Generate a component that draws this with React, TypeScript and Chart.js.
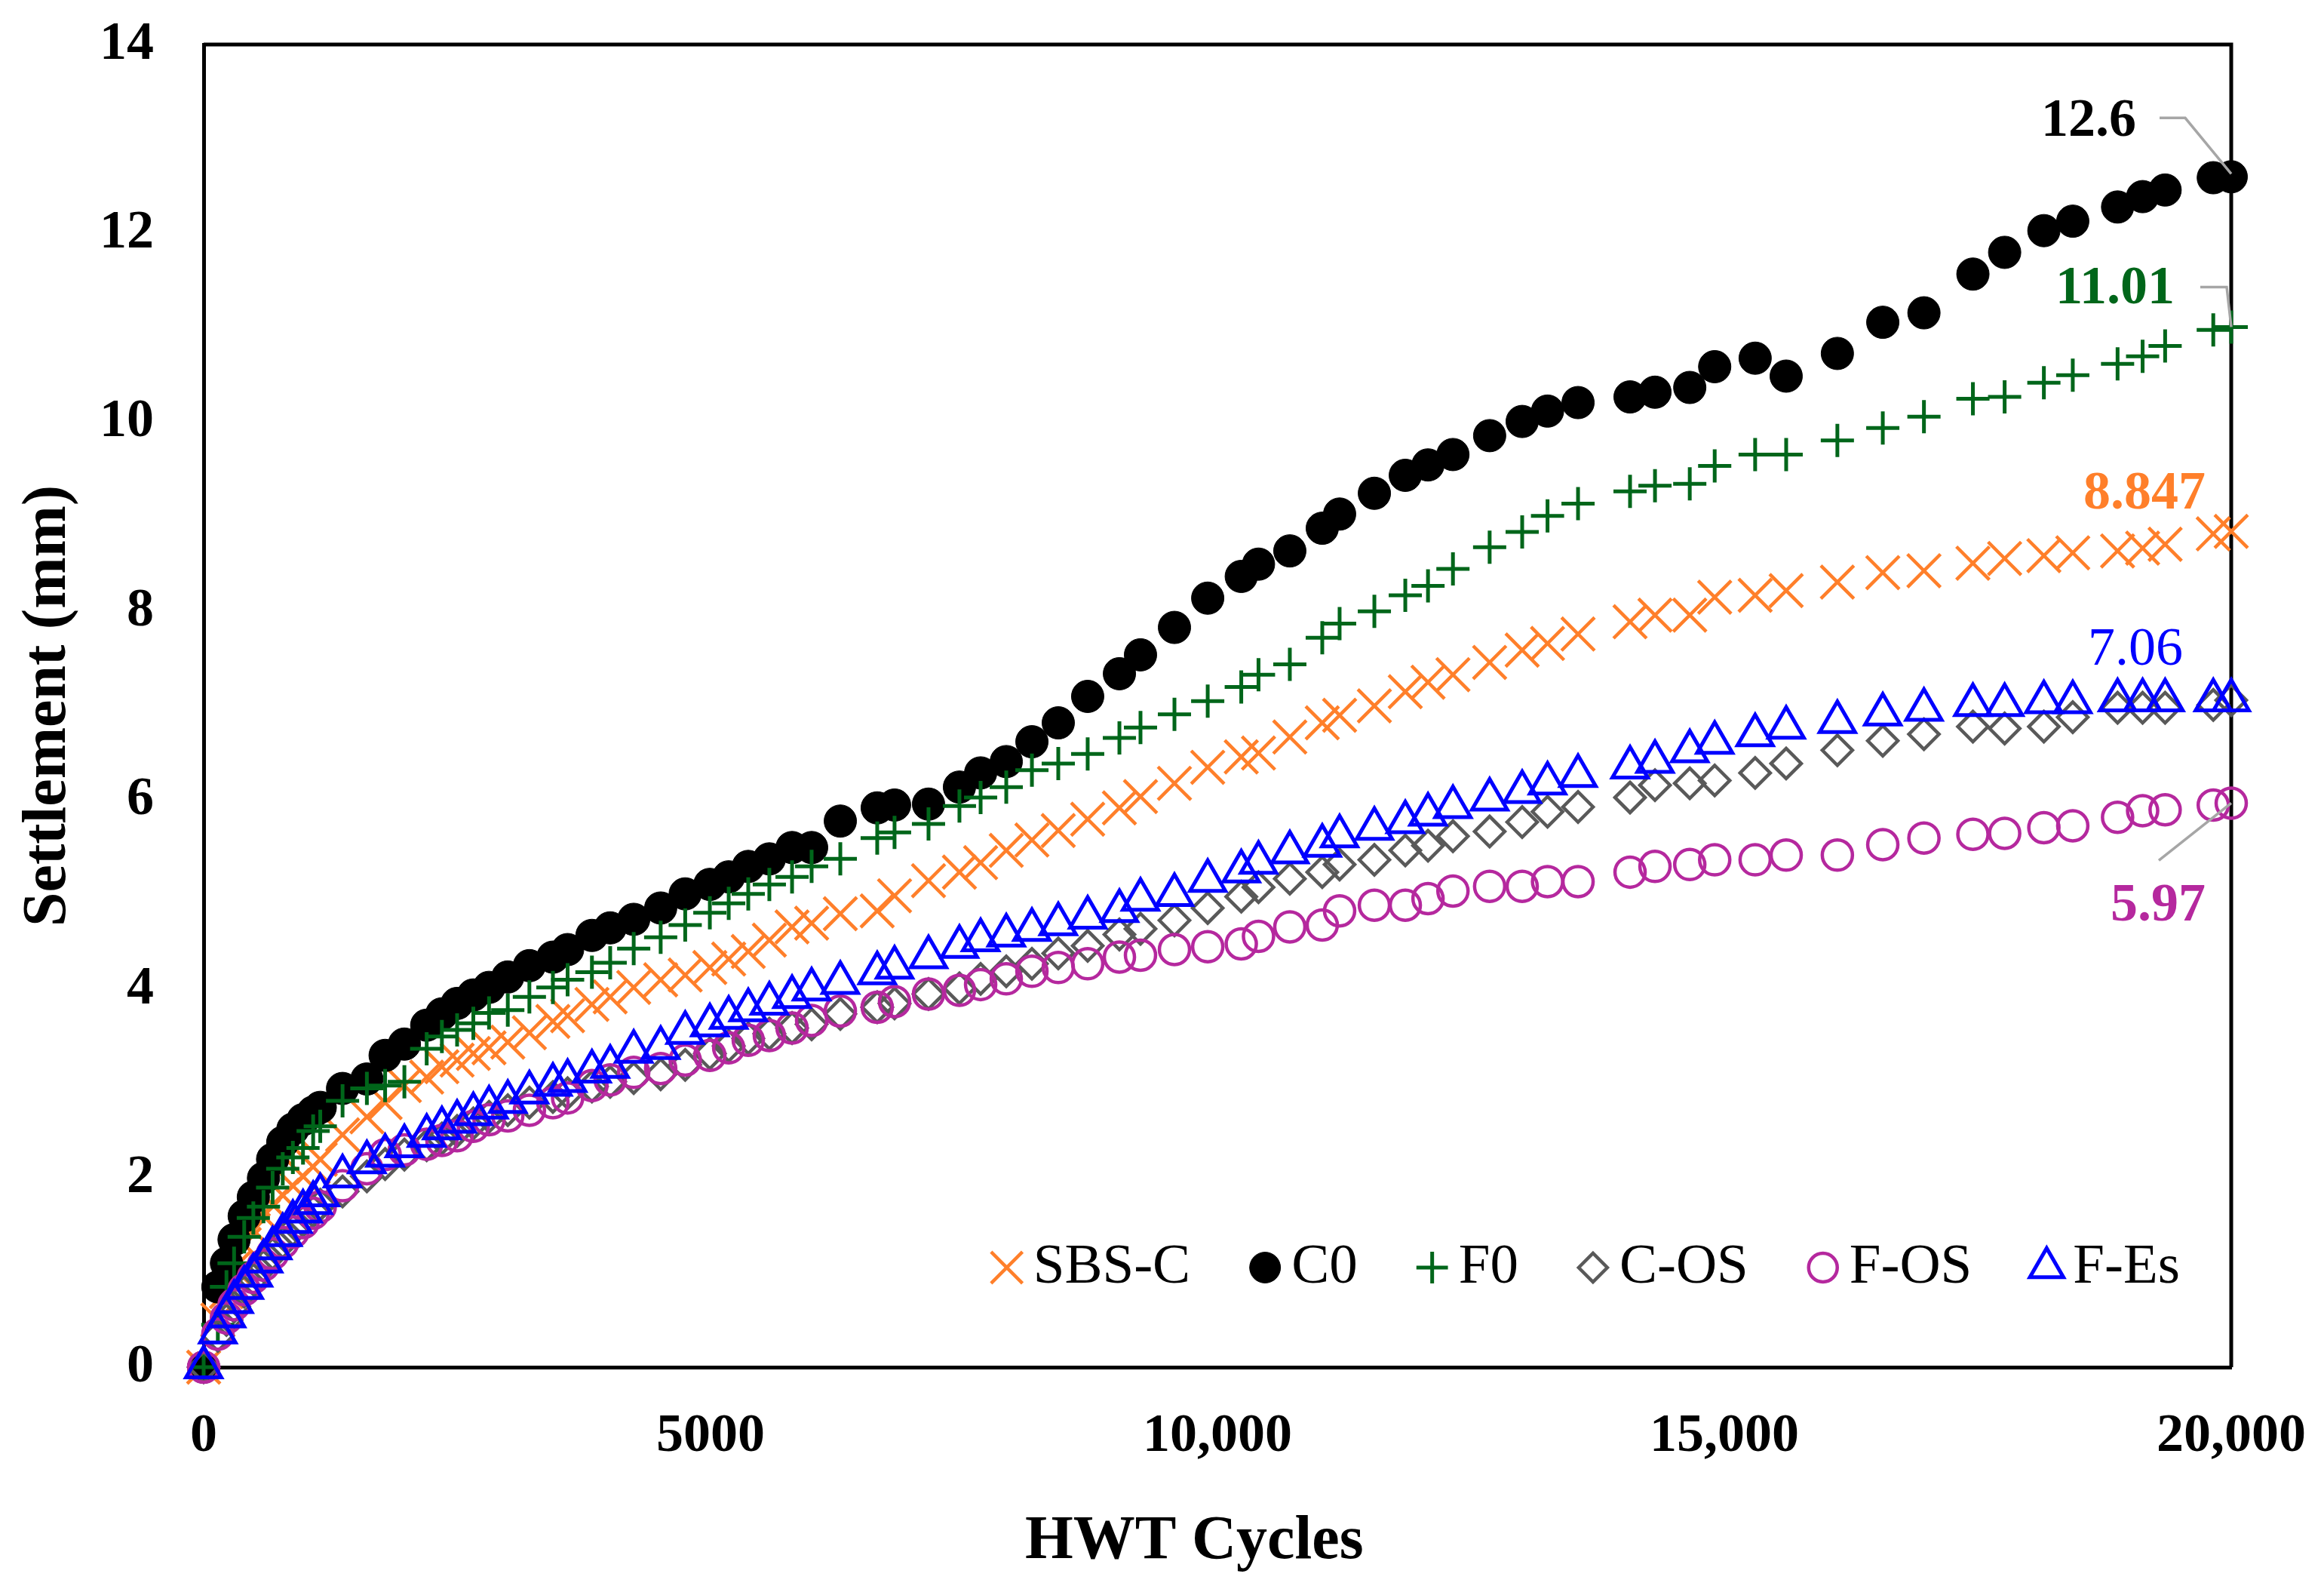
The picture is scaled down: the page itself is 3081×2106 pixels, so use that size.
import React, { useEffect, useRef } from 'react';
import { Chart, registerables } from 'chart.js';
import { drawPoint } from 'chart.js/helpers';

Chart.register(...registerables);

const W = 3081;
const H = 2106;
const FONT = '"Liberation Serif", "Times New Roman", Times, serif';

// HWT cycles at which settlement was recorded
const cycles = [
  0, 140, 225, 300, 400, 490, 590, 680, 780, 880,
  980, 1080, 1150, 1370, 1610, 1790, 1980, 2200, 2350, 2500,
  2660, 2815, 3000, 3213, 3445, 3590, 3830, 4010, 4242, 4508,
  4750, 4993, 5179, 5372, 5580, 5804, 5997, 6280, 6644, 6815,
  7150, 7455, 7664, 7917, 8170, 8430, 8720, 9033, 9241, 9576,
  9904, 10235, 10405, 10714, 11034, 11205, 11548, 11853, 12077, 12323,
  12685, 13006, 13256, 13557, 14070, 14316, 14659, 14905, 15304, 15610,
  16115, 16563, 16969, 17452, 17765, 18152, 18437, 18879, 19126, 19348,
  19823, 20000,
];

const sbsC = [
  0, 0.5, 0.8, 1.05, 1.3, 1.45, 1.6, 1.72, 1.82, 1.92,
  2.02, 2.12, 2.2, 2.46, 2.65, 2.8, 2.98, 3.07, 3.18, 3.25,
  3.32, 3.38, 3.44, 3.54, 3.66, 3.72, 3.84, 3.92, 4.02, 4.1,
  4.15, 4.23, 4.32, 4.4, 4.52, 4.66, 4.7, 4.8, 4.83, 4.99,
  5.15, 5.24, 5.34, 5.47, 5.58, 5.68, 5.8, 5.92, 6.04, 6.18,
  6.35, 6.46, 6.5, 6.67, 6.82, 6.9, 7.0, 7.15, 7.25, 7.33,
  7.46, 7.59, 7.66, 7.76, 7.89, 7.96, 7.96, 8.15, 8.17, 8.22,
  8.31, 8.41, 8.43, 8.51, 8.56, 8.59, 8.62, 8.64, 8.67, 8.71,
  8.82, 8.847,
];

const c0 = [
  0, 0.85, 1.1, 1.35, 1.6, 1.8, 2.0, 2.2, 2.38, 2.52,
  2.62, 2.7, 2.75, 2.95, 3.05, 3.3, 3.42, 3.62, 3.74, 3.85,
  3.94, 4.02, 4.13, 4.25, 4.34, 4.42, 4.57, 4.65, 4.74, 4.86,
  5.01, 5.11, 5.19, 5.3, 5.38, 5.5, 5.5, 5.78, 5.92, 5.95,
  5.96, 6.14, 6.29, 6.41, 6.62, 6.82, 7.1, 7.34, 7.54, 7.83,
  8.14, 8.37, 8.5, 8.64, 8.88, 9.03, 9.25, 9.44, 9.55, 9.66,
  9.86, 10.01, 10.12, 10.21, 10.27, 10.32, 10.37, 10.59, 10.68, 10.49,
  10.73, 11.06, 11.16, 11.57, 11.8, 12.03, 12.13, 12.28, 12.39, 12.46,
  12.59, 12.6,
];

const f0 = [
  0, 0.45, 0.85, 1.1, 1.38, 1.58, 1.7, 1.9, 2.1, 2.22,
  2.32, 2.5, 2.55, 2.82, 2.95, 2.98, 3.02, 3.37, 3.5, 3.57,
  3.64, 3.75, 3.78, 3.92, 4.02, 4.1, 4.18, 4.28, 4.43, 4.55,
  4.68, 4.81, 4.91, 5.01, 5.11, 5.19, 5.3, 5.38, 5.6, 5.66,
  5.75, 5.94, 6.03, 6.14, 6.32, 6.39, 6.49, 6.66, 6.77, 6.91,
  7.05, 7.2, 7.33, 7.44, 7.72, 7.87, 8.0, 8.17, 8.27, 8.45,
  8.68, 8.84, 9.01, 9.14, 9.27, 9.33, 9.35, 9.54, 9.66, 9.66,
  9.81, 9.94, 10.06, 10.25, 10.27, 10.42, 10.5, 10.62, 10.7, 10.81,
  10.98, 11.01,
];

const cOS = [
  0, 0.33, 0.5, 0.64, 0.8, 0.93, 1.07, 1.2, 1.32, 1.45,
  1.55, 1.65, 1.72, 1.86, 2.02, 2.15, 2.25, 2.35, 2.42, 2.5,
  2.58, 2.65, 2.72, 2.8, 2.86, 2.9, 2.97, 3.02, 3.06, 3.1,
  3.2, 3.32, 3.4, 3.48, 3.53, 3.59, 3.63, 3.74, 3.81, 3.85,
  3.95, 4.01, 4.11, 4.19, 4.27, 4.38, 4.46, 4.58, 4.64, 4.73,
  4.86, 4.98, 5.08, 5.17, 5.24, 5.32, 5.37, 5.47, 5.52, 5.62,
  5.67, 5.77, 5.88, 5.93, 6.03, 6.16, 6.18, 6.21, 6.29, 6.39,
  6.53, 6.63, 6.7, 6.78, 6.76, 6.78, 6.88, 6.98, 6.98, 6.98,
  7.01, 7.06,
];

const fOS = [
  0, 0.35, 0.52, 0.66, 0.82, 0.95, 1.08, 1.2, 1.32, 1.43,
  1.53, 1.63, 1.7, 1.92, 2.1, 2.25, 2.3, 2.36, 2.4, 2.45,
  2.55, 2.62, 2.66, 2.72, 2.8, 2.85, 2.98, 3.04, 3.12, 3.16,
  3.25, 3.3, 3.38, 3.46, 3.51, 3.59, 3.67, 3.77, 3.81, 3.87,
  3.95, 3.99, 4.05, 4.11, 4.19, 4.23, 4.27, 4.34, 4.36, 4.42,
  4.45, 4.48, 4.56, 4.66, 4.68, 4.83, 4.89, 4.89, 4.96, 5.04,
  5.09, 5.09, 5.14, 5.14, 5.24, 5.3, 5.32, 5.37, 5.37, 5.42,
  5.42, 5.53, 5.6, 5.64, 5.65, 5.71, 5.73, 5.82, 5.89, 5.9,
  5.95, 5.97,
];

const fEs = [
  0, 0.37, 0.54, 0.69, 0.84, 0.97, 1.12, 1.26, 1.4, 1.54,
  1.65, 1.74, 1.82, 2.02, 2.17, 2.24, 2.34, 2.45, 2.53, 2.6,
  2.68, 2.75, 2.81, 2.91, 2.99, 3.03, 3.13, 3.18, 3.34, 3.38,
  3.54, 3.62, 3.7, 3.78, 3.85, 3.92, 4.0, 4.07, 4.17, 4.23,
  4.34, 4.45, 4.52, 4.57, 4.63, 4.69, 4.76, 4.83, 4.95, 5.0,
  5.15, 5.25, 5.34, 5.45, 5.52, 5.62, 5.7, 5.77, 5.85, 5.93,
  6.01, 6.09, 6.18, 6.26, 6.35, 6.41, 6.52, 6.61, 6.69, 6.77,
  6.83, 6.91, 6.96, 7.01, 7.01, 7.04, 7.04, 7.06, 7.06, 7.06,
  7.06, 7.06,
];

const seriesNames = ['SBS-C', 'C0', 'F0', 'C-OS', 'F-OS', 'F-Es'];
const seriesValues = [sbsC, c0, f0, cOS, fOS, fEs];
const seriesColors = ['#FF7F2A', '#000000', '#00661A', '#595959', '#B5289E', '#0000FF'];

const xTickValues = [0, 5000, 10000, 15000, 20000];
const xTickLabels = ['0', '5000', '10,000', '15,000', '20,000'];
const yTickValues = [0, 2, 4, 6, 8, 10, 12, 14];

const markerStyle = ['crossRot', 'circle', 'cross', 'rectRot', 'circle', 'triangle'];
const markerRadius = [31, 21.5, 22, 20, 20, 27];
const markerBorder = [4.5, 1, 5, 4.5, 4.5, 5];
const markerFill = ['rgba(0,0,0,0)', '#000000', 'rgba(0,0,0,0)', 'rgba(0,0,0,0)', 'rgba(0,0,0,0)', 'rgba(0,0,0,0)'];

// end-of-test value labels (series index, weight, offsets from the final point)
const endLabels = [
  { series: 1, bold: true, dx: -189, dy: -73, leader: [[-95, -78], [-61, -78], [0, -4]] },
  { series: 2, bold: true, dx: -154, dy: -50, leader: [[-41, -53], [-6, -53], [0, 0]] },
  { series: 0, bold: true, dx: -115, dy: -49, leader: null },
  { series: 5, bold: false, dx: -127, dy: -66, leader: null },
  { series: 4, bold: true, dx: -97, dy: 137, leader: [[-96, 76], [0, 0]] },
];

const framePlugin = {
  id: 'frame',
  beforeDatasetsDraw(chart: any) {
    const { ctx, chartArea: a } = chart;
    ctx.save();
    ctx.strokeStyle = '#000';
    ctx.lineWidth = 5;
    ctx.beginPath();
    ctx.moveTo(a.left, a.top);
    ctx.lineTo(a.right, a.top);
    ctx.lineTo(a.right, a.bottom);
    ctx.stroke();
    ctx.restore();
  },
};

const endLabelPlugin = {
  id: 'endLabels',
  afterDatasetsDraw(chart: any) {
    const ctx = chart.ctx;
    ctx.save();
    endLabels.forEach((l) => {
      const meta = chart.getDatasetMeta(l.series);
      const pt = meta.data[meta.data.length - 1];
      if (!pt) return;
      const vals = seriesValues[l.series];
      const text = String(vals[vals.length - 1]);
      if (l.leader) {
        ctx.strokeStyle = '#A6A6A6';
        ctx.lineWidth = 3.5;
        ctx.beginPath();
        l.leader.forEach((p, i) => {
          const x = pt.x + p[0];
          const y = pt.y + p[1];
          if (i === 0) ctx.moveTo(x, y);
          else ctx.lineTo(x, y);
        });
        ctx.stroke();
      }
      ctx.fillStyle = seriesColors[l.series];
      ctx.font = `${l.bold ? 'bold ' : ''}72px ${FONT}`;
      ctx.textAlign = 'center';
      ctx.textBaseline = 'middle';
      ctx.fillText(text, pt.x + l.dx, pt.y + l.dy);
    });
    ctx.restore();
  },
};

const legendPlugin = {
  id: 'insideLegend',
  afterDatasetsDraw(chart: any) {
    const { ctx, chartArea: a } = chart;
    ctx.save();
    ctx.font = `75px ${FONT}`;
    const markerGap = 35;
    const itemGap = 99;
    const widths = seriesNames.map((n) => ctx.measureText(n).width);
    const total = widths.reduce((s, w) => s + w + markerGap, 0) + itemGap * (seriesNames.length - 1);
    const rightEdge = a.right - 68;
    const cy = a.bottom - 132;
    let x = rightEdge - total;
    seriesNames.forEach((name, i) => {
      ctx.strokeStyle = seriesColors[i];
      ctx.fillStyle = markerFill[i];
      ctx.lineWidth = markerBorder[i];
      drawPoint(ctx, {
        pointStyle: markerStyle[i] as any,
        radius: markerRadius[i] * 0.95,
        borderWidth: markerBorder[i],
        rotation: 0,
      } as any, x, cy);
      ctx.fillStyle = '#000';
      ctx.textAlign = 'left';
      ctx.textBaseline = 'middle';
      ctx.fillText(name, x + markerGap, cy);
      x += markerGap + widths[i] + itemGap;
    });
    ctx.restore();
  },
};

export default function App() {
  const ref = useRef<HTMLCanvasElement | null>(null);

  useEffect(() => {
    document.body.style.margin = '0';
    document.body.style.overflow = 'hidden';
    const canvas = ref.current;
    if (!canvas) return;

    const datasets = seriesNames.map((name, i) => ({
      label: name,
      data: cycles.map((x, j) => ({ x, y: seriesValues[i][j] })),
      showLine: false,
      pointStyle: markerStyle[i],
      pointRadius: markerRadius[i],
      pointHoverRadius: markerRadius[i],
      pointBorderWidth: markerBorder[i],
      pointBorderColor: seriesColors[i],
      pointBackgroundColor: markerFill[i],
      borderColor: seriesColors[i],
      backgroundColor: markerFill[i],
      clip: false,
      order: seriesNames.length - i,
    }));

    const chart = new Chart(canvas, {
      type: 'scatter',
      data: { datasets: datasets as any },
      options: {
        animation: false,
        responsive: false,
        devicePixelRatio: 1,
        events: [],
        layout: { padding: { left: 0, top: 59, right: 123, bottom: 0 } },
        plugins: {
          legend: { display: false },
          tooltip: { enabled: false },
          title: { display: false },
        },
        scales: {
          x: {
            type: 'linear',
            min: 0,
            max: 20000,
            afterFit: (s: any) => {
              s.height = 294;
              s.paddingLeft = 0;
              s.paddingRight = 0;
              s.paddingTop = 0;
              s.paddingBottom = 0;
            },
            afterBuildTicks: (s: any) => { s.ticks = xTickValues.map((v) => ({ value: v })); },
            grid: { display: false, drawTicks: false, tickLength: 0 },
            border: { display: true, color: '#000', width: 5 },
            ticks: {
              autoSkip: false,
              maxRotation: 0,
              padding: 49,
              color: '#000',
              font: { family: FONT, size: 72, weight: 'bold' },
              callback: (v: any) => {
                const k = xTickValues.indexOf(Number(v));
                return k >= 0 ? xTickLabels[k] : '';
              },
            },
            title: {
              display: true,
              text: 'HWT Cycles\u00A0\u00A0\u00A0',
              color: '#000',
              font: { family: FONT, size: 82, weight: 'bold' },
              padding: { top: 0, bottom: 13 },
            },
          },
          y: {
            type: 'linear',
            min: 0,
            max: 14,
            afterFit: (s: any) => {
              s.width = 270;
              s.paddingLeft = 0;
              s.paddingRight = 0;
              s.paddingTop = 0;
              s.paddingBottom = 0;
            },
            afterBuildTicks: (s: any) => { s.ticks = yTickValues.map((v) => ({ value: v })); },
            grid: { display: false, drawTicks: false, tickLength: 0 },
            border: { display: true, color: '#000', width: 5 },
            ticks: {
              autoSkip: false,
              padding: 66,
              color: '#000',
              font: { family: FONT, size: 72, weight: 'bold' },
              callback: (v: any) => String(v),
            },
            title: {
              display: true,
              text: 'Settlement (mm)',
              color: '#000',
              font: { family: FONT, size: 82, weight: 'bold' },
              padding: { top: 16, bottom: 0 },
            },
          },
        },
      } as any,
      plugins: [framePlugin, endLabelPlugin, legendPlugin],
    });

    return () => chart.destroy();
  }, []);

  return (
    <div style={{ width: W, height: H, background: '#fff' }}>
      <canvas ref={ref} width={W} height={H} style={{ display: 'block', width: W, height: H }} />
    </div>
  );
}
